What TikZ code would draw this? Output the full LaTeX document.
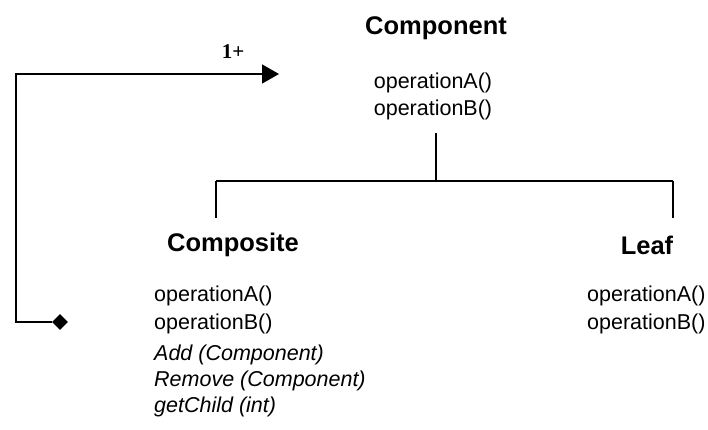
\documentclass[tikz,border=0pt]{standalone}
\usepackage{fontspec}
\setmainfont{Liberation Sans}
\newfontfamily\serifnum{Liberation Serif}
\usetikzlibrary{arrows.meta,shapes.geometric}
\begin{document}
\begin{tikzpicture}[x=1pt,y=-1pt,
  title/.style={font=\fontsize{25.5}{30}\selectfont\bfseries, inner sep=0pt},
  op/.style={font=\fontsize{21.5}{25}\selectfont, inner sep=0pt, anchor=west},
  iop/.style={op, font=\fontsize{21.5}{25}\selectfont\itshape},
  ln/.style={line width=1.5pt}]
\useasboundingbox (0,0) rectangle (708,429);
% Component
\node[title] (comp) at (436,28) {Component};
\node[op, anchor=center] (cA) at (433,83) {operationA()};
\node[op, anchor=center] (cB) at (433,110) {operationB()};
% Composite
\node[title] (cmp) at (233,245) {Composite};
\node[op] (pA) at (154,296) {operationA()};
\node[op] (pB) at (154,324) {operationB()};
\node[iop] (pAdd) at (154,355) {Add (Component)};
\node[iop] (pRem) at (154,381) {Remove (Component)};
\node[iop] (pGet) at (154,407) {getChild (int)};
% Leaf
\node[title] (leaf) at (647,245) {Leaf};
\node[op] (lA) at (587,296) {operationA()};
\node[op] (lB) at (587,324) {operationB()};
% tree
\coordinate (top) at (436,133);
\coordinate (bar) at (436,181);
\coordinate (barL) at (216,181);
\coordinate (barR) at (673,181);
\coordinate (dL) at (216,218);
\coordinate (dR) at (673,218);
\draw[ln] (top) -- (bar);
\draw[ln] (barL) -- (barR);
\draw[ln] (barL) -- (dL);
\draw[ln] (barR) -- (dR);
% aggregation
\coordinate (tip) at (279,74);
\node[diamond, fill=black, inner sep=0pt, minimum width=16pt, minimum height=16pt] (dm) at (60,322) {};
\draw[ln, -{Triangle[length=17pt,width=19pt]}] (dm.west) -- (16,322) -- (16,74) -- (tip);
\node[font=\serifnum\fontsize{21}{24}\selectfont\bfseries] (mult) at (233,52) {1+};
\end{tikzpicture}
\end{document}
